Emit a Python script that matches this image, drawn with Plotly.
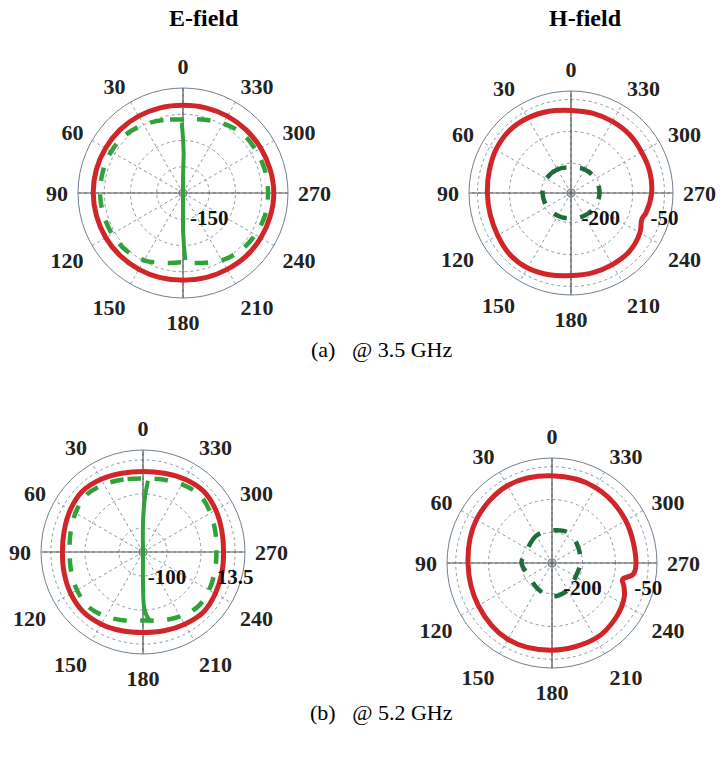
import plotly.graph_objects as go

W, H = 724, 757

# ---------------- data ----------------
ang_ticks = list(range(0, 360, 30))

# (a) 3.5 GHz, E-field
e35_theta = [0, 15, 30, 45, 60, 75, 90, 105, 120, 135, 150, 165, 180, 195, 210, 225, 240, 255, 270, 285, 300, 315, 330, 345, 360]
e35_red = [-33, -32, -31, -30, -29.5, -29, -29, -29.5, -30, -31, -32, -33, -34, -33, -32, -30, -29, -28, -27, -28, -29, -30, -31, -32, -33]
e35_green_dash = [-60, -56, -50, -44, -42, -42, -42, -43, -44, -46, -52, -62, -68, -62, -52, -45, -41, -38, -38, -38, -39, -40, -47, -55, -60]
e35_cross_theta = [1, 0, 359, 0, 0, 180, 180, 181, 182]
e35_cross_r = [-66, -95, -125, -170, -200, -170, -130, -100, -72]

# (a) 3.5 GHz, H-field
h35_theta = [0, 15, 30, 45, 60, 75, 90, 105, 120, 135, 150, 165, 180, 195, 210, 225, 240, 250, 255, 270, 285, 300, 315, 330, 345, 360]
h35_red = [-75.6, -70.8, -66, -63.6, -66, -70.8, -73.2, -73.2, -70.8, -66, -66, -70.8, -75.6, -75.6, -75.6, -75.6, -82.8, -92.4, -87.6, -80.4, -78, -78, -75.6, -75.6, -75.6, -75.6]
h35_green_theta = [0, 30, 60, 90, 120, 150, 180, 210, 240, 270, 300, 330, 360]
h35_green_dash = [-210, -206, -203, -203, -205, -208, -210, -208, -205, -203, -203, -206, -210]

# (b) 5.2 GHz, E-field
e52_theta = [0, 15, 30, 45, 60, 75, 90, 105, 120, 135, 150, 165, 180, 195, 210, 225, 240, 255, 270, 285, 300, 315, 330, 345, 360]
e52_red = [-5.7, -4, 0, 3, 0, -4, -5.7, -4, -1, 1, -1, -4, -5.7, -4, -1, 2, -1, -4, -5.7, -4, 0, 3, 0, -4, -5.7]
e52_green_dash = [-17.6, -15, -10, -6, -10, -15, -17.6, -16, -13, -11, -16, -22, -26, -22, -16, -11, -13, -16, -17.6, -15, -10, -6, -10, -15, -17.6]
e52_cross_theta = [356, 357, 358, 0, 0, 180, 181, 183, 186]
e52_cross_r = [-21, -35, -50, -90, -140, -90, -50, -35, -24]

# (b) 5.2 GHz, H-field
h52_theta = [0, 30, 60, 90, 120, 150, 180, 210, 230, 245, 252, 257, 262, 270, 300, 330, 360]
h52_red = [-70.8, -66, -70.8, -78, -75.6, -68.4, -70.8, -70.8, -78, -87.6, -97.2, -104.4, -82.8, -78, -75.6, -70.8, -70.8]
h52_green_theta = [0, 30, 60, 90, 120, 150, 180, 210, 240, 270, 300, 330, 360]
h52_green_dash = [-195.6, -198, -205.2, -200.4, -210, -202.8, -193.2, -198, -207.6, -205.2, -200.4, -190.8, -195.6]

# radial axis settings per panel
rng_e35 = [-200, 0];   tv_e35 = [-150, -100, -50];      tt_e35 = ["-150", "", ""]
rng_h35 = [-270, -30]; tv_h35 = [-200, -125, -50];      tt_h35 = ["-200", "", "-50"]
rng_e52 = [-140, 30];  tv_e52 = [-100, -43.25, 13.5];   tt_e52 = ["-100", "", "13.5"]
rng_h52 = [-270, -30]; tv_h52 = [-200, -125, -50];      tt_h52 = ["-200", "", "-50"]

# ---------------- styling ----------------
RED = "#d0262a"
GREEN = "#2fa33a"
DKGREEN = "#1e6b3c"
SERIF = "Liberation Serif, Times New Roman, serif"

fig = go.Figure()


def dom(cx, cy, R):
    return dict(x=[(cx - R) / W, (cx + R) / W], y=[1 - (cy + R) / H, 1 - (cy - R) / H])


def polar_layout(cx, cy, R, rng, tv, tt):
    return dict(
        domain=dom(cx, cy, R),
        bgcolor="white",
        angularaxis=dict(
            rotation=90, direction="counterclockwise",
            tickvals=ang_ticks, ticktext=[str(a) for a in ang_ticks],
            ticks="outside", ticklen=5, tickcolor="rgba(0,0,0,0)",
            tickfont=dict(family=SERIF, size=22, color="#222", weight="bold"),
            showgrid=True, gridcolor="#8a9aa8", griddash="dot", gridwidth=1,
            showline=True, linecolor="#6f8090", linewidth=1,
        ),
        radialaxis=dict(
            range=rng, tickvals=tv, ticktext=tt, angle=0, side="clockwise",
            ticks="outside", ticklen=6, tickcolor="rgba(0,0,0,0)",
            showline=False, showgrid=True, gridcolor="#8a9aa8", griddash="dot", gridwidth=1,
            tickfont=dict(family=SERIF, size=21, color="#111", weight="bold"),
        ),
    )


def add_frame(sub, rng):
    # solid cross lines through the centre
    for th in ([0, 0, 180], [90, 90, 270]):
        fig.add_trace(go.Scatterpolar(r=[rng[1], rng[0], rng[1]], theta=th, mode="lines",
                                      line=dict(color="#555", width=1.2), subplot=sub,
                                      showlegend=False, hoverinfo="skip"))
    fig.add_trace(go.Scatterpolar(r=[rng[0]], theta=[0], mode="markers",
                                  marker=dict(symbol="circle-open", size=8, color="#777", line=dict(width=1.2)),
                                  subplot=sub, showlegend=False, hoverinfo="skip"))


# top-left: E-field 3.5 GHz
add_frame("polar", rng_e35)
fig.add_trace(go.Scatterpolar(r=e35_red, theta=e35_theta, mode="lines", line=dict(color=RED, width=5, shape="spline"), subplot="polar", showlegend=False))
fig.add_trace(go.Scatterpolar(r=e35_green_dash, theta=e35_theta, mode="lines", line=dict(color=GREEN, width=4.5, dash="dash", shape="spline"), subplot="polar", showlegend=False))
fig.add_trace(go.Scatterpolar(r=e35_cross_r, theta=e35_cross_theta, mode="lines", line=dict(color=GREEN, width=4), subplot="polar", showlegend=False))

# top-right: H-field 3.5 GHz
add_frame("polar2", rng_h35)
fig.add_trace(go.Scatterpolar(r=h35_red, theta=h35_theta, mode="lines", line=dict(color=RED, width=5, shape="spline"), subplot="polar2", showlegend=False))
fig.add_trace(go.Scatterpolar(r=h35_green_dash, theta=h35_green_theta, mode="lines", line=dict(color=DKGREEN, width=4.5, dash="dash", shape="spline"), subplot="polar2", showlegend=False))

# bottom-left: E-field 5.2 GHz
add_frame("polar3", rng_e52)
fig.add_trace(go.Scatterpolar(r=e52_red, theta=e52_theta, mode="lines", line=dict(color=RED, width=5, shape="spline"), subplot="polar3", showlegend=False))
fig.add_trace(go.Scatterpolar(r=e52_green_dash, theta=e52_theta, mode="lines", line=dict(color=GREEN, width=4.5, dash="dash", shape="spline"), subplot="polar3", showlegend=False))
fig.add_trace(go.Scatterpolar(r=e52_cross_r, theta=e52_cross_theta, mode="lines", line=dict(color=GREEN, width=4, shape="spline"), subplot="polar3", showlegend=False))

# bottom-right: H-field 5.2 GHz
add_frame("polar4", rng_h52)
fig.add_trace(go.Scatterpolar(r=h52_red, theta=h52_theta, mode="lines", line=dict(color=RED, width=5, shape="spline"), subplot="polar4", showlegend=False))
fig.add_trace(go.Scatterpolar(r=h52_green_dash, theta=h52_green_theta, mode="lines", line=dict(color=DKGREEN, width=4.5, dash="dash", shape="spline"), subplot="polar4", showlegend=False))

fig.update_layout(
    width=W, height=H, margin=dict(l=0, r=0, t=0, b=0),
    paper_bgcolor="white", plot_bgcolor="white",
    polar=polar_layout(183, 193, 105, rng_e35, tv_e35, tt_e35),
    polar2=polar_layout(571, 193, 102, rng_h35, tv_h35, tt_h35),
    polar3=polar_layout(143, 552, 102, rng_e52, tv_e52, tt_e52),
    polar4=polar_layout(552, 563, 105, rng_h52, tv_h52, tt_h52),
    annotations=[
        dict(text="E-field", x=204 / W, y=1 - 18 / H, xref="paper", yref="paper", showarrow=False,
             xanchor="center", yanchor="middle",
             font=dict(family=SERIF, size=24, color="black", weight="bold")),
        dict(text="H-field", x=585 / W, y=1 - 18 / H, xref="paper", yref="paper", showarrow=False,
             xanchor="center", yanchor="middle",
             font=dict(family=SERIF, size=24, color="black", weight="bold")),
        dict(text="(a)\u00a0\u00a0\u00a0@ 3.5 GHz", x=381 / W, y=1 - 350 / H, xref="paper", yref="paper", showarrow=False,
             xanchor="center", yanchor="middle",
             font=dict(family=SERIF, size=22, color="black")),
        dict(text="(b)\u00a0\u00a0\u00a0@ 5.2 GHz", x=381 / W, y=1 - 712 / H, xref="paper", yref="paper", showarrow=False,
             xanchor="center", yanchor="middle",
             font=dict(family=SERIF, size=22, color="black")),
    ],
)

fig.write_html("out.html")
